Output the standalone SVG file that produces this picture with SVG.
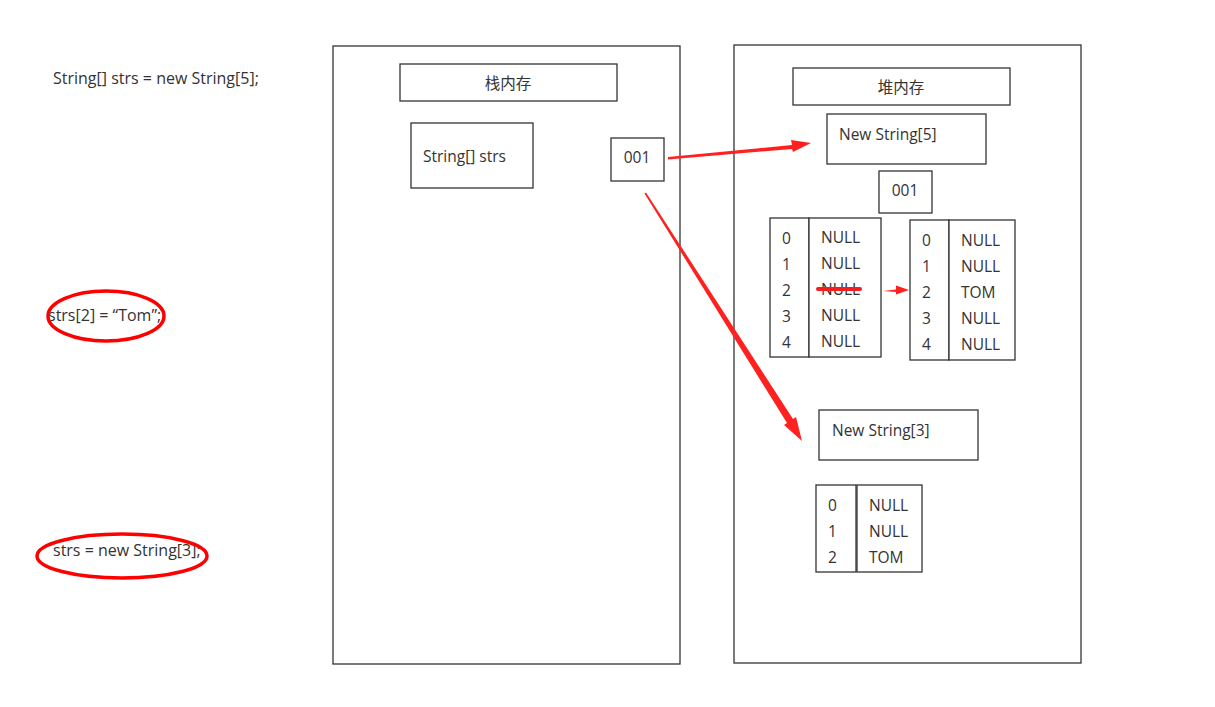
<svg xmlns="http://www.w3.org/2000/svg" width="1215" height="707" viewBox="0 0 1215 707">
<style>
text{font-family:"Open Sans","Noto Sans CJK SC",sans-serif;font-size:15.5px;fill:#333}
.c{font-size:16px}
.b{fill:#fff;stroke:#333;stroke-width:1.3}
.r{fill:#ff2020;stroke:none}
.e{fill:none;stroke:#f00;stroke-width:3.5}
</style>
<rect width="1215" height="707" fill="#fff"/>
<g id="code">
<text class="c" x="53" y="84">String[] strs = new String[5];</text>
<text class="c" x="48" y="321">strs[2] = “Tom”;</text>
<text class="c" x="53" y="556">strs = new String[3];</text>
<ellipse class="e" cx="106" cy="316" rx="58" ry="25"/>
<ellipse class="e" cx="122" cy="556" rx="85" ry="22"/>
</g>
<g id="stack">
<rect class="b" x="333" y="46" width="347" height="618"/>
<rect class="b" x="400" y="64" width="217" height="37"/>
<text x="508" y="89" text-anchor="middle">栈内存</text>
<rect class="b" x="411" y="123" width="122" height="65"/>
<text x="423" y="162">String[] strs</text>
<rect class="b" x="611" y="138" width="53" height="43"/>
<text x="637" y="163" text-anchor="middle">001</text>
</g>
<g id="heap">
<rect class="b" x="734" y="45" width="347" height="618"/>
<rect class="b" x="793" y="68" width="217" height="37"/>
<text x="901" y="93" text-anchor="middle">堆内存</text>
<rect class="b" x="827" y="114" width="159" height="50"/>
<text x="839" y="140">New String[5]</text>
<rect class="b" x="879" y="171" width="53" height="42"/>
<text x="905" y="196" text-anchor="middle">001</text>
</g>
<g id="array5a">
<rect class="b" x="770" y="218" width="39" height="139"/>
<rect class="b" x="809" y="218" width="72" height="139"/>
<text x="782" y="244">0</text><text x="821" y="243">NULL</text>
<text x="782" y="270">1</text><text x="821" y="269">NULL</text>
<text x="782" y="296">2</text><text x="821" y="295">NULL</text>
<text x="782" y="322">3</text><text x="821" y="321">NULL</text>
<text x="782" y="348">4</text><text x="821" y="347">NULL</text>
</g>
<g id="array5b">
<rect class="b" x="910" y="220" width="39" height="140"/>
<rect class="b" x="949" y="220" width="66" height="140"/>
<text x="922" y="246">0</text><text x="961" y="246">NULL</text>
<text x="922" y="272">1</text><text x="961" y="272">NULL</text>
<text x="922" y="298">2</text><text x="961" y="298">TOM</text>
<text x="922" y="324">3</text><text x="961" y="324">NULL</text>
<text x="922" y="350">4</text><text x="961" y="350">NULL</text>
</g>
<g id="newstr3">
<rect class="b" x="819" y="410" width="159" height="50"/>
<text x="832" y="436">New String[3]</text>
</g>
<g id="array3">
<rect class="b" x="816" y="485" width="40" height="87"/>
<rect class="b" x="857" y="485" width="65" height="87"/>
<text x="828" y="511">0</text><text x="869" y="511">NULL</text>
<text x="828" y="537">1</text><text x="869" y="537">NULL</text>
<text x="828" y="563">2</text><text x="869" y="563">TOM</text>
</g>
<g id="connectors">
<polygon class="r" points="668,159.5 668,157 792,145 791,140 811,143 793,152 792,149"/>
<polygon class="r" points="644.5,193.5 646,192.5 793,419 796,417 802,441 784,425 787,423"/>
<polygon class="r" points="883,291 896,289.5 896,285.5 909,290 896,294.5 896,292"/>
<line x1="818" y1="289" x2="860" y2="289" stroke="#f02020" stroke-width="4" stroke-linecap="round"/>
</g>
</svg>
